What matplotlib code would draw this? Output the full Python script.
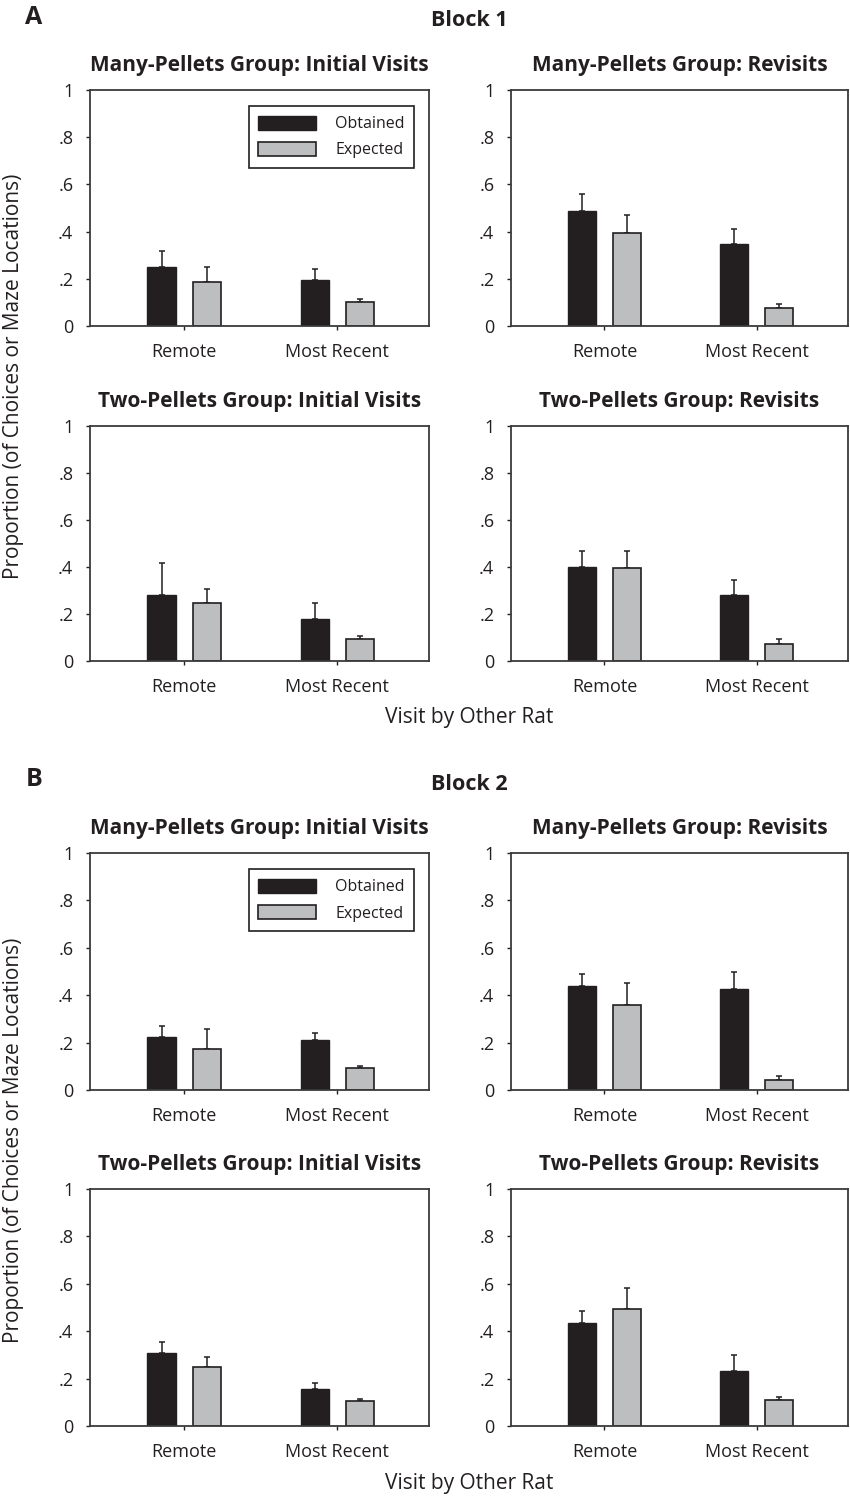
import numpy as np
import matplotlib
matplotlib.use("Agg")
import matplotlib.pyplot as plt

plt.rcParams['font.family'] = ['Open Sans', 'DejaVu Sans']

# Data
categories = ["Remote", "Most Recent"]
panel_titles = ["Many-Pellets Group: Initial Visits", "Many-Pellets Group: Revisits",
                "Two-Pellets Group: Initial Visits", "Two-Pellets Group: Revisits"]
yticks = [0, 0.2, 0.4, 0.6, 0.8, 1.0]
ytick_labels = ["0", ".2", ".4", ".6", ".8", "1"]

# Block 1
b1_obtained = [[0.250, 0.194], [0.488, 0.349], [0.280, 0.177], [0.399, 0.279]]
b1_obtained_err = [[0.067, 0.048], [0.071, 0.061], [0.139, 0.071], [0.070, 0.064]]
b1_expected = [[0.187, 0.100], [0.393, 0.077], [0.245, 0.093], [0.394, 0.074]]
b1_expected_err = [[0.063, 0.015], [0.076, 0.017], [0.061, 0.015], [0.072, 0.019]]

# Block 2
b2_obtained = [[0.224, 0.213], [0.438, 0.427], [0.310, 0.155], [0.434, 0.230]]
b2_obtained_err = [[0.044, 0.028], [0.051, 0.070], [0.044, 0.028], [0.050, 0.069]]
b2_expected = [[0.173, 0.094], [0.360, 0.044], [0.248, 0.104], [0.494, 0.110]]
b2_expected_err = [[0.085, 0.007], [0.091, 0.014], [0.044, 0.009], [0.090, 0.014]]

DARK = '#231f20'
GREY = '#bcbec0'
W, H = 850, 1498

fig = plt.figure(figsize=(8.5, 14.98), dpi=100)


def px_axes(x0, y0, x1, y1):
    return fig.add_axes([x0 / W, 1 - y1 / H, (x1 - x0) / W, (y1 - y0) / H])


col_x = [(90, 429), (511, 848)]
block_rows = [[(90, 326), (426, 661)], [(853, 1090), (1189, 1426)]]
blocks = [(b1_obtained, b1_obtained_err, b1_expected, b1_expected_err),
          (b2_obtained, b2_obtained_err, b2_expected, b2_expected_err)]

x = np.arange(1, len(categories) + 1)
bw = 0.183
off = 0.147

for bi, (obt, obt_e, exp, exp_e) in enumerate(blocks):
    for pi in range(4):
        r, c = divmod(pi, 2)
        (x0, x1), (y0, y1) = col_x[c], block_rows[bi][r]
        ax = px_axes(x0, y0, x1, y1)
        b_o = ax.bar(x - off, obt[pi], bw, color=DARK, edgecolor=DARK, linewidth=1.0,
                     label="Obtained", zorder=2)
        b_e = ax.bar(x + off, exp[pi], bw, color=GREY, edgecolor=DARK, linewidth=1.2,
                     label="Expected", zorder=2)
        ax.errorbar(x - off, obt[pi], yerr=[np.zeros(2), obt_e[pi]], fmt='none',
                    ecolor=DARK, elinewidth=1.1, capsize=2.5, capthick=1.1, zorder=1)
        ax.errorbar(x + off, exp[pi], yerr=[np.zeros(2), exp_e[pi]], fmt='none',
                    ecolor=DARK, elinewidth=1.1, capsize=2.5, capthick=1.1, zorder=1)
        ax.set_xlim(0.386, 2.60)
        ax.set_ylim(0, 1)
        ax.set_yticks(yticks)
        ax.set_yticklabels(ytick_labels)
        ax.set_xticks(x)
        ax.set_xticklabels(categories)
        ax.tick_params(axis='both', labelsize=13, colors=DARK, length=3, width=1)
        ax.tick_params(axis='x', pad=9)
        ax.tick_params(axis='y', pad=9)
        for s in ax.spines.values():
            s.set_color('#3a3a3a')
            s.set_linewidth(1.3)
        ax.set_title(panel_titles[pi], fontsize=15, fontweight='bold', color=DARK, pad=14)
        if pi == 0:
            leg = ax.legend(handles=[b_o, b_e], loc='upper right',
                            bbox_to_anchor=(0.956, 0.932), borderaxespad=0,
                            fancybox=False, edgecolor=DARK, fontsize=11.5,
                            handlelength=3.6, handleheight=1.0, labelspacing=0.6,
                            handletextpad=1.2, borderpad=0.6, framealpha=1)
            leg.get_frame().set_linewidth(1.2)
            for t in leg.get_texts():
                t.set_color(DARK)

# Block headings, panel letters, shared labels
fig.text(469 / W, 1 - 21 / H, "Block 1", ha='center', va='center', fontsize=15.5,
         fontweight='bold', color=DARK)
fig.text(469 / W, 1 - 785 / H, "Block 2", ha='center', va='center', fontsize=15.5,
         fontweight='bold', color=DARK)
fig.text(34 / W, 1 - 17 / H, "A", ha='center', va='center', fontsize=18,
         fontweight='bold', color=DARK)
fig.text(34 / W, 1 - 779 / H, "B", ha='center', va='center', fontsize=18,
         fontweight='bold', color=DARK)
for yc in (376, 1140):
    fig.text(14 / W, 1 - yc / H, "Proportion (of Choices or Maze Locations)",
             rotation=90, ha='center', va='center', fontsize=15, color=DARK)
for yc in (717, 1483):
    fig.text(469 / W, 1 - yc / H, "Visit by Other Rat", ha='center', va='center',
             fontsize=15, color=DARK)

fig.savefig("out.png", dpi=100, facecolor='white')
